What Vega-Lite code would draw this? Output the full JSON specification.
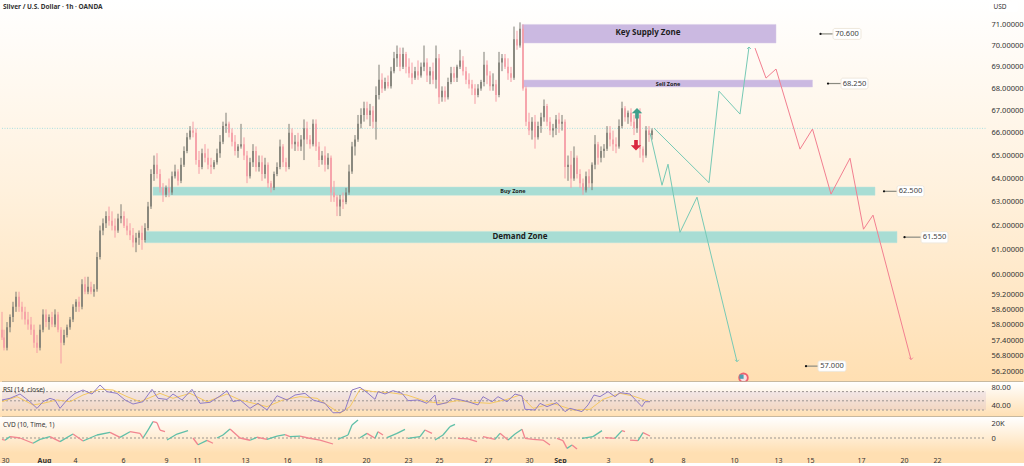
{"$schema":"https://vega.github.io/schema/vega-lite/v6.json","padding":0,"background":"#ffdfb2","spacing":0,"bounds":"flush","config":{"view":{"stroke":null},"font":"Noto Sans","concat":{"spacing":0},"axis":{"domain":false,"ticks":false,"grid":false,"title":null,"labelFont":"Noto Sans","labelFontSize":7.5,"labelColor":"#333333"}},
"datasets":{
"candles":[{"x":2,"o":57.8,"h":58.5,"l":57.4,"c":57.5},{"x":4,"o":57.5,"h":57.8,"l":57.0,"c":57.1},{"x":7,"o":57.1,"h":58.1,"l":57.0,"c":57.9},{"x":10,"o":57.9,"h":58.4,"l":57.7,"c":58.3},{"x":13,"o":58.3,"h":58.9,"l":58.1,"c":58.7},{"x":16,"o":58.7,"h":59.3,"l":58.5,"c":59.1},{"x":19,"o":59.1,"h":59.3,"l":58.5,"c":58.7},{"x":22,"o":58.7,"h":58.9,"l":58.2,"c":58.5},{"x":25,"o":58.5,"h":58.7,"l":58.0,"c":58.2},{"x":28,"o":58.2,"h":58.5,"l":57.8,"c":58.0},{"x":31,"o":58.0,"h":58.3,"l":57.6,"c":57.8},{"x":34,"o":57.8,"h":58.0,"l":57.1,"c":57.3},{"x":37,"o":57.3,"h":57.6,"l":56.9,"c":57.1},{"x":40,"o":57.1,"h":58.0,"l":57.0,"c":57.8},{"x":43,"o":57.8,"h":58.6,"l":57.7,"c":58.4},{"x":46,"o":58.4,"h":58.6,"l":57.9,"c":58.1},{"x":49,"o":58.1,"h":58.4,"l":57.8,"c":58.3},{"x":52,"o":58.3,"h":58.5,"l":57.9,"c":58.0},{"x":55,"o":58.0,"h":58.6,"l":57.9,"c":58.4},{"x":58,"o":58.4,"h":58.5,"l":57.7,"c":57.8},{"x":61,"o":57.8,"h":57.9,"l":56.5,"c":57.3},{"x":64,"o":57.3,"h":57.8,"l":57.2,"c":57.6},{"x":67,"o":57.6,"h":58.0,"l":57.5,"c":57.9},{"x":70,"o":57.9,"h":58.3,"l":57.8,"c":58.2},{"x":73,"o":58.2,"h":58.8,"l":58.1,"c":58.7},{"x":76,"o":58.7,"h":59.0,"l":58.5,"c":58.9},{"x":79,"o":58.9,"h":59.1,"l":58.5,"c":58.7},{"x":82,"o":58.7,"h":59.8,"l":58.6,"c":59.6},{"x":85,"o":59.6,"h":59.9,"l":59.2,"c":59.3},{"x":88,"o":59.3,"h":59.9,"l":59.2,"c":59.5},{"x":91,"o":59.5,"h":59.7,"l":59.2,"c":59.3},{"x":94,"o":59.3,"h":59.6,"l":59.1,"c":59.4},{"x":97,"o":59.4,"h":60.9,"l":59.3,"c":60.7},{"x":100,"o":60.7,"h":62.0,"l":60.6,"c":61.8},{"x":103,"o":61.8,"h":62.3,"l":61.6,"c":62.1},{"x":106,"o":62.1,"h":62.6,"l":61.9,"c":62.4},{"x":109,"o":62.4,"h":62.8,"l":62.0,"c":62.2},{"x":112,"o":62.2,"h":62.6,"l":61.8,"c":62.0},{"x":115,"o":62.0,"h":62.3,"l":61.5,"c":61.8},{"x":118,"o":61.8,"h":62.5,"l":61.7,"c":62.3},{"x":121,"o":62.3,"h":62.9,"l":62.1,"c":62.4},{"x":124,"o":62.4,"h":62.6,"l":61.9,"c":62.0},{"x":127,"o":62.0,"h":62.3,"l":61.6,"c":61.8},{"x":130,"o":61.8,"h":62.1,"l":61.4,"c":61.6},{"x":133,"o":61.6,"h":61.9,"l":61.1,"c":61.3},{"x":136,"o":61.3,"h":61.7,"l":60.9,"c":61.5},{"x":139,"o":61.5,"h":61.8,"l":61.2,"c":61.7},{"x":142,"o":61.7,"h":62.0,"l":61.0,"c":61.4},{"x":145,"o":61.4,"h":62.1,"l":61.3,"c":61.9},{"x":148,"o":61.9,"h":63.0,"l":61.8,"c":62.8},{"x":151,"o":62.8,"h":64.4,"l":62.7,"c":64.2},{"x":154,"o":64.2,"h":65.0,"l":63.9,"c":64.6},{"x":157,"o":64.6,"h":65.1,"l":64.0,"c":64.2},{"x":160,"o":64.2,"h":64.4,"l":63.4,"c":63.6},{"x":163,"o":63.6,"h":63.8,"l":63.0,"c":63.3},{"x":166,"o":63.3,"h":63.7,"l":63.2,"c":63.6},{"x":169,"o":63.6,"h":64.0,"l":63.2,"c":63.4},{"x":172,"o":63.4,"h":64.3,"l":63.3,"c":64.1},{"x":175,"o":64.1,"h":64.6,"l":64.0,"c":64.3},{"x":178,"o":64.3,"h":64.4,"l":63.7,"c":63.9},{"x":181,"o":63.9,"h":64.9,"l":63.8,"c":64.6},{"x":184,"o":64.6,"h":65.4,"l":64.5,"c":65.2},{"x":187,"o":65.2,"h":66.0,"l":65.1,"c":65.8},{"x":190,"o":65.8,"h":66.3,"l":65.7,"c":66.1},{"x":193,"o":66.1,"h":66.5,"l":65.8,"c":66.0},{"x":196,"o":66.0,"h":66.2,"l":64.6,"c":64.8},{"x":199,"o":64.8,"h":65.2,"l":64.2,"c":64.5},{"x":202,"o":64.5,"h":65.3,"l":64.4,"c":65.1},{"x":205,"o":65.1,"h":65.5,"l":64.7,"c":64.9},{"x":208,"o":64.9,"h":65.3,"l":64.4,"c":64.6},{"x":211,"o":64.6,"h":64.9,"l":64.2,"c":64.5},{"x":214,"o":64.5,"h":64.8,"l":64.4,"c":64.7},{"x":217,"o":64.7,"h":65.3,"l":64.6,"c":65.1},{"x":220,"o":65.1,"h":65.9,"l":64.9,"c":65.6},{"x":223,"o":65.6,"h":66.5,"l":65.5,"c":66.3},{"x":226,"o":66.3,"h":66.9,"l":66.0,"c":66.4},{"x":229,"o":66.4,"h":66.5,"l":65.8,"c":66.0},{"x":232,"o":66.0,"h":66.2,"l":65.4,"c":65.6},{"x":235,"o":65.6,"h":65.9,"l":65.0,"c":65.2},{"x":238,"o":65.2,"h":65.5,"l":64.9,"c":65.4},{"x":241,"o":65.4,"h":66.4,"l":65.3,"c":65.5},{"x":244,"o":65.5,"h":65.8,"l":64.8,"c":65.0},{"x":247,"o":65.0,"h":65.2,"l":63.8,"c":64.1},{"x":250,"o":64.1,"h":64.9,"l":64.0,"c":64.7},{"x":253,"o":64.7,"h":65.5,"l":64.5,"c":65.2},{"x":256,"o":65.2,"h":65.4,"l":64.3,"c":64.5},{"x":259,"o":64.5,"h":65.0,"l":64.3,"c":64.7},{"x":262,"o":64.7,"h":65.0,"l":63.9,"c":64.2},{"x":265,"o":64.2,"h":64.9,"l":64.0,"c":64.6},{"x":268,"o":64.6,"h":64.7,"l":63.6,"c":63.8},{"x":271,"o":63.8,"h":63.9,"l":63.4,"c":63.6},{"x":274,"o":63.6,"h":64.3,"l":63.5,"c":64.2},{"x":277,"o":64.2,"h":64.7,"l":64.1,"c":64.5},{"x":280,"o":64.5,"h":65.7,"l":64.4,"c":65.4},{"x":283,"o":65.4,"h":65.5,"l":64.5,"c":64.7},{"x":286,"o":64.7,"h":64.9,"l":64.3,"c":64.5},{"x":289,"o":64.5,"h":66.4,"l":64.4,"c":66.0},{"x":292,"o":66.0,"h":66.2,"l":65.3,"c":65.5},{"x":295,"o":65.5,"h":65.9,"l":65.2,"c":65.6},{"x":298,"o":65.6,"h":66.0,"l":65.2,"c":65.4},{"x":301,"o":65.4,"h":65.9,"l":65.2,"c":65.7},{"x":304,"o":65.7,"h":66.6,"l":64.8,"c":66.2},{"x":307,"o":66.2,"h":66.5,"l":65.5,"c":65.7},{"x":310,"o":65.7,"h":65.9,"l":65.3,"c":65.5},{"x":313,"o":65.5,"h":66.6,"l":65.4,"c":66.4},{"x":316,"o":66.4,"h":66.6,"l":65.2,"c":65.4},{"x":319,"o":65.4,"h":65.6,"l":64.5,"c":64.8},{"x":322,"o":64.8,"h":65.2,"l":64.6,"c":65.0},{"x":325,"o":65.0,"h":65.4,"l":64.3,"c":64.6},{"x":328,"o":64.6,"h":65.1,"l":64.4,"c":64.9},{"x":331,"o":64.9,"h":65.0,"l":63.0,"c":63.4},{"x":334,"o":63.4,"h":63.9,"l":63.0,"c":63.2},{"x":337,"o":63.2,"h":63.3,"l":62.4,"c":62.8},{"x":340,"o":62.8,"h":63.3,"l":62.4,"c":63.1},{"x":343,"o":63.1,"h":63.4,"l":62.7,"c":63.0},{"x":346,"o":63.0,"h":63.6,"l":62.9,"c":63.4},{"x":349,"o":63.4,"h":64.6,"l":63.3,"c":64.3},{"x":352,"o":64.3,"h":65.6,"l":64.2,"c":65.4},{"x":355,"o":65.4,"h":65.9,"l":65.0,"c":65.7},{"x":358,"o":65.7,"h":66.8,"l":65.6,"c":66.4},{"x":361,"o":66.4,"h":67.1,"l":66.2,"c":66.8},{"x":364,"o":66.8,"h":67.4,"l":66.5,"c":67.1},{"x":367,"o":67.1,"h":67.4,"l":66.6,"c":66.8},{"x":370,"o":66.8,"h":67.3,"l":66.3,"c":67.0},{"x":373,"o":67.0,"h":67.2,"l":66.2,"c":66.5},{"x":376,"o":66.5,"h":68.1,"l":65.7,"c":67.7},{"x":379,"o":67.7,"h":69.1,"l":67.5,"c":68.4},{"x":382,"o":68.4,"h":68.7,"l":67.8,"c":68.0},{"x":385,"o":68.0,"h":68.5,"l":67.9,"c":68.3},{"x":388,"o":68.3,"h":68.6,"l":68.0,"c":68.1},{"x":391,"o":68.1,"h":69.0,"l":68.0,"c":68.8},{"x":394,"o":68.8,"h":69.7,"l":68.7,"c":69.4},{"x":397,"o":69.4,"h":70.0,"l":69.0,"c":69.6},{"x":400,"o":69.6,"h":69.9,"l":68.8,"c":69.0},{"x":403,"o":69.0,"h":69.9,"l":68.9,"c":69.6},{"x":406,"o":69.6,"h":69.7,"l":68.7,"c":69.0},{"x":409,"o":69.0,"h":69.4,"l":68.5,"c":68.7},{"x":412,"o":68.7,"h":69.2,"l":68.2,"c":68.5},{"x":415,"o":68.5,"h":69.0,"l":68.4,"c":68.8},{"x":418,"o":68.8,"h":69.3,"l":68.4,"c":68.6},{"x":421,"o":68.6,"h":69.2,"l":68.5,"c":69.0},{"x":424,"o":69.0,"h":70.0,"l":68.8,"c":69.2},{"x":427,"o":69.2,"h":69.4,"l":68.3,"c":68.6},{"x":430,"o":68.6,"h":69.0,"l":68.2,"c":68.8},{"x":433,"o":68.8,"h":69.2,"l":68.2,"c":68.4},{"x":436,"o":68.4,"h":70.0,"l":68.0,"c":69.4},{"x":439,"o":69.4,"h":69.6,"l":67.3,"c":67.6},{"x":442,"o":67.6,"h":68.1,"l":67.4,"c":67.9},{"x":445,"o":67.9,"h":68.1,"l":67.4,"c":67.6},{"x":448,"o":67.6,"h":68.5,"l":67.5,"c":68.3},{"x":451,"o":68.3,"h":69.0,"l":68.2,"c":68.7},{"x":454,"o":68.7,"h":69.0,"l":68.3,"c":68.5},{"x":457,"o":68.5,"h":69.1,"l":68.3,"c":69.0},{"x":460,"o":69.0,"h":69.8,"l":68.9,"c":69.3},{"x":463,"o":69.3,"h":69.5,"l":68.6,"c":68.8},{"x":466,"o":68.8,"h":69.0,"l":68.2,"c":68.4},{"x":469,"o":68.4,"h":68.7,"l":68.0,"c":68.2},{"x":472,"o":68.2,"h":68.4,"l":67.7,"c":68.0},{"x":475,"o":68.0,"h":68.2,"l":67.3,"c":67.7},{"x":478,"o":67.7,"h":68.2,"l":67.6,"c":68.0},{"x":481,"o":68.0,"h":68.4,"l":67.9,"c":68.3},{"x":484,"o":68.3,"h":69.7,"l":68.1,"c":69.1},{"x":487,"o":69.1,"h":69.3,"l":68.2,"c":68.6},{"x":490,"o":68.6,"h":68.8,"l":67.9,"c":68.1},{"x":493,"o":68.1,"h":68.7,"l":67.9,"c":68.2},{"x":496,"o":68.2,"h":68.4,"l":67.4,"c":67.7},{"x":499,"o":67.7,"h":69.7,"l":67.6,"c":69.2},{"x":502,"o":69.2,"h":69.6,"l":68.8,"c":69.4},{"x":505,"o":69.4,"h":69.6,"l":68.9,"c":69.0},{"x":508,"o":69.0,"h":69.4,"l":68.4,"c":68.7},{"x":511,"o":68.7,"h":69.0,"l":68.3,"c":68.5},{"x":514,"o":68.5,"h":70.9,"l":68.4,"c":70.3},{"x":517,"o":70.3,"h":70.7,"l":69.8,"c":70.0},{"x":520,"o":70.0,"h":71.1,"l":69.9,"c":70.8},{"x":523,"o":70.8,"h":71.0,"l":67.9,"c":68.0},{"x":526,"o":68.0,"h":68.1,"l":66.3,"c":66.5},{"x":529,"o":66.5,"h":66.9,"l":65.9,"c":66.1},{"x":532,"o":66.1,"h":66.7,"l":65.7,"c":66.5},{"x":535,"o":66.5,"h":66.8,"l":65.3,"c":65.8},{"x":538,"o":65.8,"h":66.5,"l":65.7,"c":66.3},{"x":541,"o":66.3,"h":66.9,"l":66.0,"c":66.7},{"x":544,"o":66.7,"h":67.5,"l":66.5,"c":67.2},{"x":547,"o":67.2,"h":67.3,"l":66.3,"c":66.5},{"x":550,"o":66.5,"h":66.7,"l":65.9,"c":66.1},{"x":553,"o":66.1,"h":66.4,"l":65.8,"c":66.2},{"x":556,"o":66.2,"h":66.8,"l":65.9,"c":66.6},{"x":559,"o":66.6,"h":66.9,"l":66.0,"c":66.4},{"x":562,"o":66.4,"h":66.8,"l":66.1,"c":66.5},{"x":565,"o":66.5,"h":66.6,"l":64.0,"c":64.5},{"x":568,"o":64.5,"h":65.0,"l":63.9,"c":64.6},{"x":571,"o":64.6,"h":65.2,"l":63.6,"c":64.0},{"x":574,"o":64.0,"h":65.4,"l":63.9,"c":64.9},{"x":577,"o":64.9,"h":65.0,"l":64.0,"c":64.2},{"x":580,"o":64.2,"h":64.4,"l":63.6,"c":63.8},{"x":583,"o":63.8,"h":64.0,"l":63.3,"c":63.5},{"x":586,"o":63.5,"h":64.3,"l":63.4,"c":64.1},{"x":589,"o":64.1,"h":64.4,"l":63.6,"c":63.8},{"x":592,"o":63.8,"h":64.7,"l":63.5,"c":64.6},{"x":595,"o":64.6,"h":65.9,"l":64.4,"c":65.5},{"x":598,"o":65.5,"h":65.6,"l":64.6,"c":64.9},{"x":601,"o":64.9,"h":65.4,"l":64.7,"c":65.2},{"x":604,"o":65.2,"h":65.5,"l":64.9,"c":65.3},{"x":607,"o":65.3,"h":66.3,"l":65.2,"c":66.0},{"x":610,"o":66.0,"h":66.3,"l":65.4,"c":65.7},{"x":613,"o":65.7,"h":66.1,"l":65.2,"c":65.5},{"x":616,"o":65.5,"h":65.8,"l":65.1,"c":65.4},{"x":619,"o":65.4,"h":66.6,"l":65.3,"c":66.3},{"x":622,"o":66.3,"h":67.4,"l":66.2,"c":67.1},{"x":625,"o":67.1,"h":67.2,"l":66.5,"c":66.7},{"x":628,"o":66.7,"h":67.0,"l":66.4,"c":66.9},{"x":631,"o":66.9,"h":67.1,"l":66.3,"c":66.5},{"x":634,"o":66.5,"h":66.8,"l":65.9,"c":66.2},{"x":637,"o":66.2,"h":67.0,"l":66.0,"c":66.8},{"x":640,"o":66.8,"h":67.1,"l":64.9,"c":65.3},{"x":643,"o":65.3,"h":65.4,"l":64.7,"c":65.0},{"x":646,"o":65.0,"h":66.3,"l":64.9,"c":66.1},{"x":649,"o":66.1,"h":66.3,"l":65.6,"c":65.9},{"x":652,"o":65.9,"h":66.2,"l":65.7,"c":66.1}],
"rsi":[{"x":2,"v":51.8},{"x":10,"v":55.4},{"x":20,"v":64.8},{"x":30,"v":48},{"x":37,"v":33.6},{"x":43,"v":48},{"x":50,"v":55.4},{"x":55,"v":51.8},{"x":60,"v":33.6},{"x":67,"v":51.8},{"x":75,"v":66.2},{"x":83,"v":73.5},{"x":92,"v":64.8},{"x":100,"v":84.4},{"x":107,"v":69.9},{"x":117,"v":66.2},{"x":125,"v":51.8},{"x":133,"v":43},{"x":143,"v":48},{"x":152,"v":75},{"x":158,"v":55.4},{"x":167,"v":53},{"x":173,"v":64.8},{"x":182,"v":51.8},{"x":192,"v":75},{"x":200,"v":44.5},{"x":210,"v":46.7},{"x":220,"v":60.4},{"x":227,"v":72},{"x":233,"v":48},{"x":240,"v":51.8},{"x":250,"v":33.6},{"x":258,"v":44.5},{"x":267,"v":30},{"x":277,"v":61},{"x":287,"v":51.8},{"x":295,"v":62.6},{"x":305,"v":66.2},{"x":313,"v":51.8},{"x":325,"v":44.5},{"x":333,"v":24},{"x":340,"v":24.2},{"x":345,"v":30},{"x":352,"v":73.5},{"x":360,"v":79.3},{"x":368,"v":66.3},{"x":375,"v":53.2},{"x":378,"v":70},{"x":385,"v":64.8},{"x":393,"v":72},{"x":402,"v":66.3},{"x":408,"v":50.3},{"x":418,"v":51.8},{"x":427,"v":44.5},{"x":435,"v":62.6},{"x":437,"v":41},{"x":447,"v":46},{"x":452,"v":55.4},{"x":458,"v":53.2},{"x":468,"v":48},{"x":478,"v":41},{"x":483,"v":59},{"x":492,"v":48},{"x":498,"v":59},{"x":507,"v":48},{"x":515,"v":64.8},{"x":522,"v":60.5},{"x":525,"v":31.5},{"x":535,"v":30},{"x":540,"v":44.5},{"x":547,"v":37.3},{"x":557,"v":46},{"x":565,"v":26.4},{"x":570,"v":33.7},{"x":582,"v":26.4},{"x":588,"v":41},{"x":594,"v":62.6},{"x":600,"v":59},{"x":608,"v":70},{"x":615,"v":59},{"x":620,"v":67.7},{"x":630,"v":64.8},{"x":635,"v":53.2},{"x":642,"v":37.3},{"x":645,"v":48},{"x":650,"v":48}],
"ma":[{"x":2,"v":48},{"x":17,"v":59},{"x":33,"v":41},{"x":43,"v":44.5},{"x":57,"v":51.8},{"x":70,"v":48},{"x":83,"v":62.6},{"x":100,"v":75},{"x":113,"v":73.5},{"x":127,"v":59},{"x":140,"v":48},{"x":160,"v":66.2},{"x":173,"v":55.4},{"x":190,"v":66.2},{"x":207,"v":48},{"x":227,"v":64.8},{"x":240,"v":51.8},{"x":267,"v":37.3},{"x":283,"v":51.8},{"x":300,"v":59},{"x":317,"v":55.4},{"x":340,"v":22.8},{"x":350,"v":37.3},{"x":360,"v":75},{"x":373,"v":70},{"x":390,"v":67.7},{"x":407,"v":62.6},{"x":427,"v":48},{"x":443,"v":44.5},{"x":457,"v":50.3},{"x":473,"v":46.7},{"x":490,"v":44.5},{"x":507,"v":53.2},{"x":520,"v":62.6},{"x":533,"v":33.7},{"x":553,"v":44.5},{"x":573,"v":30},{"x":590,"v":31.5},{"x":603,"v":53.2},{"x":620,"v":66.3},{"x":633,"v":60.5},{"x":650,"v":48}],
"cvd":[{"x":2,"x2":5,"o":-1.8,"c":-3},{"x":5,"x2":10,"o":-3,"c":1.8},{"x":10,"x2":20,"o":1.8,"c":0},{"x":20,"x2":33,"o":0,"c":-7},{"x":33,"x2":40,"o":-7,"c":-1.8},{"x":40,"x2":50,"o":-1.8,"c":1.8},{"x":50,"x2":60,"o":1.8,"c":-4.9},{"x":60,"x2":73,"o":-4.9,"c":5.3},{"x":73,"x2":83,"o":5.3,"c":-4},{"x":83,"x2":97,"o":-4,"c":4},{"x":97,"x2":110,"o":4,"c":7.5},{"x":110,"x2":120,"o":7.5,"c":0.9},{"x":120,"x2":130,"o":0.9,"c":8.4},{"x":130,"x2":140,"o":8.4,"c":6.2},{"x":140,"x2":143,"o":6.2,"c":0},{"x":143,"x2":148,"o":0,"c":10.6},{"x":148,"x2":153,"o":10.6,"c":21.8},{"x":153,"x2":157,"o":21.8,"c":20.4},{"x":157,"x2":160,"o":20.4,"c":10.6},{"x":160,"x2":165,"o":10.6,"c":8.4},{"x":167,"x2":177,"o":-2.7,"c":5.3},{"x":177,"x2":188,"o":5.3,"c":9.8},{"x":193,"x2":198,"o":0,"c":-9},{"x":198,"x2":207,"o":-9,"c":-3.1},{"x":207,"x2":213,"o":-3.1,"c":-7},{"x":217,"x2":223,"o":0,"c":4},{"x":223,"x2":230,"o":4,"c":12},{"x":230,"x2":240,"o":12,"c":0},{"x":240,"x2":250,"o":0,"c":-3},{"x":250,"x2":257,"o":-3,"c":1},{"x":257,"x2":267,"o":1,"c":-1.8},{"x":267,"x2":277,"o":-1.8,"c":2.6},{"x":277,"x2":285,"o":2.6,"c":4.4},{"x":285,"x2":290,"o":4.4,"c":1.8},{"x":290,"x2":300,"o":1.8,"c":2.6},{"x":300,"x2":308,"o":2.6,"c":0},{"x":308,"x2":320,"o":0,"c":-2.7},{"x":320,"x2":333,"o":-2.7,"c":-8},{"x":338,"x2":340,"o":-1.8,"c":-0.4},{"x":340,"x2":348,"o":-0.4,"c":4},{"x":348,"x2":352,"o":4,"c":17.3},{"x":352,"x2":358,"o":17.3,"c":24},{"x":360,"x2":367,"o":0.4,"c":6.2},{"x":367,"x2":375,"o":6.2,"c":-0.4},{"x":375,"x2":378,"o":-0.4,"c":8.4},{"x":378,"x2":383,"o":8.4,"c":4},{"x":387,"x2":397,"o":0.4,"c":6.2},{"x":397,"x2":405,"o":6.2,"c":11.6},{"x":408,"x2":420,"o":-0.4,"c":1.8},{"x":420,"x2":425,"o":1.8,"c":10.7},{"x":425,"x2":432,"o":10.7,"c":6.2},{"x":435,"x2":443,"o":-2.7,"c":4},{"x":443,"x2":450,"o":4,"c":15.1},{"x":450,"x2":455,"o":15.1,"c":18.2},{"x":458,"x2":468,"o":-0.4,"c":-1.3},{"x":468,"x2":477,"o":-1.3,"c":-4.9},{"x":483,"x2":495,"o":1.8,"c":-1.8},{"x":495,"x2":500,"o":-1.8,"c":6.2},{"x":500,"x2":508,"o":6.2,"c":-2.7},{"x":508,"x2":515,"o":-2.7,"c":5.3},{"x":515,"x2":522,"o":5.3,"c":11.6},{"x":522,"x2":525,"o":11.6,"c":-0.4},{"x":525,"x2":533,"o":-0.4,"c":-1.8},{"x":533,"x2":543,"o":-1.8,"c":-2.7},{"x":543,"x2":550,"o":-2.7,"c":-9.3},{"x":557,"x2":563,"o":-0.4,"c":-3.5},{"x":563,"x2":567,"o":-3.5,"c":-13.8},{"x":567,"x2":572,"o":-13.8,"c":-9.3},{"x":572,"x2":577,"o":-9.3,"c":-14.7},{"x":582,"x2":593,"o":-0.4,"c":1.8},{"x":593,"x2":602,"o":1.8,"c":9.8},{"x":605,"x2":615,"o":0.4,"c":-0.4},{"x":615,"x2":622,"o":-0.4,"c":9.8},{"x":622,"x2":625,"o":9.8,"c":8.4},{"x":630,"x2":638,"o":-2.7,"c":-3.5},{"x":638,"x2":643,"o":-3.5,"c":7.1},{"x":643,"x2":650,"o":7.1,"c":2.7}],
"zones":[{"name":"Key Supply Zone","kind":"supply","size":"big","x":522,"x2":776,"y":71.0,"y2":70.12,"mx":648,"my":70.6},{"name":"Sell Zone","kind":"supply","size":"small","x":523,"x2":812.5,"y":68.39,"y2":68.07,"mx":668,"my":68.23},{"name":"Buy Zone","kind":"demand","size":"small","x":153,"x2":875,"y":63.63,"y2":63.28,"mx":513,"my":63.45},{"name":"Demand Zone","kind":"demand","size":"big","x":145,"x2":897,"y":61.76,"y2":61.29,"mx":520,"my":61.52}],
"paths":[{"k":"a","i":0,"x":654,"y":66.21},{"k":"a","i":1,"x":709,"y":63.82},{"k":"a","i":2,"x":719,"y":67.88},{"k":"a","i":3,"x":740,"y":66.84},{"k":"a","i":4,"x":749,"y":69.93},{"k":"b","i":0,"x":650,"y":65.99},{"k":"b","i":1,"x":662,"y":63.71},{"k":"b","i":2,"x":668,"y":64.62},{"k":"b","i":3,"x":680,"y":61.72},{"k":"b","i":4,"x":697,"y":63.2},{"k":"b","i":5,"x":737,"y":56.57},{"k":"c","i":0,"x":755,"y":69.88},{"k":"c","i":1,"x":766,"y":68.48},{"k":"c","i":2,"x":776,"y":68.9},{"k":"c","i":3,"x":800,"y":65.28},{"k":"c","i":4,"x":812.5,"y":66.17},{"k":"c","i":5,"x":831,"y":63.33},{"k":"c","i":6,"x":850,"y":64.88},{"k":"c","i":7,"x":863.5,"y":61.85},{"k":"c","i":8,"x":873,"y":62.44},{"k":"c","i":9,"x":911,"y":56.65}],
"callouts":[{"x":820.5,"xl":833,"xr":861,"xt":847,"y":70.55,"top":70.81,"bot":70.29,"t":"70.600"},{"x":828,"xl":841,"xr":868,"xt":854.5,"y":68.23,"top":68.48,"bot":67.98,"t":"68.250"},{"x":884,"xl":897,"xr":924,"xt":910.5,"y":63.45,"top":63.69,"bot":63.22,"t":"62.500"},{"x":904.5,"xl":921,"xr":948,"xt":934.5,"y":61.52,"top":61.75,"bot":61.28,"t":"61.550"},{"x":806,"xl":818,"xr":846,"xt":832,"y":56.4,"top":56.6,"bot":56.2,"t":"57.000"}]
},
"vconcat":[
{"width":1024,"height":382,"encoding":{"x":{"field":"x","type":"quantitative","scale":{"domain":[0,1024],"nice":false,"zero":false},"axis":null}},"layer":[
{"data":{"values":[{"x":0,"x2":1024,"y":72.18,"y2":55.8}]},"mark":{"type":"rect","fill":{"gradient":"linear","x1":0,"y1":0,"x2":0,"y2":1,"stops":[{"offset":0,"color":"#ffffff"},{"offset":0.5,"color":"#fff1dd"},{"offset":1,"color":"#ffdfb2"}]}},"encoding":{"x2":{"field":"x2"},"y":{"field":"y","type":"quantitative","scale":{"type":"log","domain":[55.8,72.18],"nice":false,"zero":false},"axis":{"orient":"right","zindex":1,"labelPadding":-33,"values":[71,70,69,68,67,66,65,64,63,62,61,60,59.2,58.6,58,57.4,56.8,56.2],"format":".5f"}},"y2":{"field":"y2"}}},
{"data":{"values":[{"x":2,"x2":986,"y":66.2}]},"mark":{"type":"rule","color":"#a9dfe0","strokeWidth":1,"strokeDash":[1,1.5]},"encoding":{"x2":{"field":"x2"},"y":{"field":"y","type":"quantitative"}}},
{"data":{"name":"zones"},"mark":{"type":"rect","strokeWidth":1,"strokeOpacity":0.5},"encoding":{"x2":{"field":"x2"},"y":{"field":"y","type":"quantitative"},"y2":{"field":"y2"},"fill":{"field":"kind","scale":{"domain":["supply","demand"],"range":["#cbb9e1","#a8ddd4"]},"legend":null},"stroke":{"field":"kind","scale":{"domain":["supply","demand"],"range":["#d9cdea","#bce5de"]},"legend":null}}},
{"data":{"name":"candles"},"mark":{"type":"rule","strokeWidth":1},"encoding":{"y":{"field":"l","type":"quantitative"},"y2":{"field":"h"},"color":{"condition":{"test":"datum.c>=datum.o","value":"#7d7d74"},"value":"#f59ca5"}}},
{"data":{"name":"candles"},"mark":{"type":"rule","strokeWidth":1.6},"encoding":{"y":{"field":"o","type":"quantitative"},"y2":{"field":"c"},"color":{"condition":{"test":"datum.c>=datum.o","value":"#7d7d74"},"value":"#f59ca5"}}},
{"data":{"name":"paths"},"mark":{"type":"line","strokeWidth":1},"encoding":{"y":{"field":"y","type":"quantitative"},"order":{"field":"i"},"detail":{"field":"k"},"color":{"field":"k","scale":{"domain":["a","b","c"],"range":["#76c9b5","#76c9b5","#f27f90"]},"legend":null}}},
{"data":{"values":[{"x":749,"y":69.93}]},"mark":{"type":"point","shape":"M-1,1L0,0L1,1","size":14,"color":"#76c9b5","strokeWidth":1,"opacity":1},"encoding":{"y":{"field":"y","type":"quantitative"}}},
{"data":{"values":[{"x":737,"y":56.57}]},"mark":{"type":"point","shape":"M-1,-1L0,0L1,-1","size":14,"color":"#76c9b5","strokeWidth":1,"opacity":1},"encoding":{"y":{"field":"y","type":"quantitative"}}},
{"data":{"values":[{"x":911,"y":56.65}]},"mark":{"type":"point","shape":"M-1,-1L0,0L1,-1","size":14,"color":"#f27f90","strokeWidth":1,"opacity":1},"encoding":{"y":{"field":"y","type":"quantitative"}}},
{"data":{"values":[{"x":637,"y":66.88}]},"mark":{"type":"point","filled":true,"opacity":1,"shape":"M-0.35,1L0.35,1L0.35,0L1,0L0,-1L-1,0L-0.35,0Z","size":110,"color":"#3f9f8c"},"encoding":{"y":{"field":"y","type":"quantitative"}}},
{"data":{"values":[{"x":636,"y":65.45}]},"mark":{"type":"point","filled":true,"opacity":1,"shape":"M-0.35,-1L0.35,-1L0.35,0L1,0L0,1L-1,0L-0.35,0Z","size":110,"color":"#d9273f"},"encoding":{"y":{"field":"y","type":"quantitative"}}},
{"data":{"values":[{"x":743.5,"y":55.96}]},"mark":{"type":"point","filled":true,"opacity":1,"size":110,"color":"#f0606f","shape":"circle"},"encoding":{"y":{"field":"y","type":"quantitative"}}},
{"data":{"values":[{"x":743.5,"y":55.96}]},"mark":{"type":"point","filled":true,"opacity":1,"size":45,"color":"#f9dfe0","shape":"circle"},"encoding":{"y":{"field":"y","type":"quantitative"}}},
{"data":{"values":[{"x":741.5,"y":56.0}]},"mark":{"type":"point","filled":true,"opacity":1,"size":18,"color":"#4f9fb0","shape":"square"},"encoding":{"y":{"field":"y","type":"quantitative"}}},
{"data":{"name":"zones"},"transform":[{"filter":"datum.size=='big'"}],"mark":{"type":"text","fontWeight":"bold","fontSize":8,"color":"#1d1d1d"},"encoding":{"x":{"field":"mx","type":"quantitative"},"y":{"field":"my","type":"quantitative"},"text":{"field":"name"}}},
{"data":{"name":"zones"},"transform":[{"filter":"datum.size=='small'"}],"mark":{"type":"text","fontWeight":"bold","fontSize":5.5,"color":"#1d1d1d"},"encoding":{"x":{"field":"mx","type":"quantitative"},"y":{"field":"my","type":"quantitative"},"text":{"field":"name"}}},
{"data":{"name":"callouts"},"mark":{"type":"rule","color":"#8a8a80","strokeWidth":1.2},"encoding":{"x2":{"field":"xl"},"y":{"field":"y","type":"quantitative"}}},
{"data":{"name":"callouts"},"mark":{"type":"point","filled":true,"opacity":1,"size":5,"color":"#111111"},"encoding":{"y":{"field":"y","type":"quantitative"}}},
{"data":{"name":"callouts"},"mark":{"type":"rect","fill":"#ffffff","stroke":"#efe8dc","strokeWidth":1,"cornerRadius":2},"encoding":{"x":{"field":"xl","type":"quantitative"},"x2":{"field":"xr"},"y":{"field":"top","type":"quantitative"},"y2":{"field":"bot"}}},
{"data":{"name":"callouts"},"mark":{"type":"text","fontSize":7.5,"color":"#444444"},"encoding":{"x":{"field":"xt","type":"quantitative"},"y":{"field":"y","type":"quantitative"},"text":{"field":"t"}}},
{"data":{"values":[{"x":989,"x2":1018,"y":72.09,"y2":71.6}]},"mark":{"type":"rect","fill":"#ffffff","cornerRadius":2},"encoding":{"x2":{"field":"x2"},"y":{"field":"y","type":"quantitative"},"y2":{"field":"y2"}}},
{"data":{"values":[{"x":1000,"y":71.84,"t":"USD"}]},"mark":{"type":"text","fontSize":6.5,"color":"#333333"},"encoding":{"y":{"field":"y","type":"quantitative"},"text":{"field":"t"}}},
{"data":{"values":[{"x":3,"y":71.84,"t":"Silver / U.S. Dollar · 1h · OANDA"}]},"mark":{"type":"text","fontSize":6.5,"fontWeight":"bold","align":"left","color":"#333333"},"encoding":{"y":{"field":"y","type":"quantitative"},"text":{"field":"t"}}},
{"data":{"values":[{"x":2,"x2":1023,"y":55.8}]},"mark":{"type":"rule","color":"#b6ac98","strokeWidth":1.5},"encoding":{"x2":{"field":"x2"},"y":{"field":"y","type":"quantitative"}}}
]},
{"width":1024,"height":35,"encoding":{"x":{"field":"x","type":"quantitative","scale":{"domain":[0,1024],"nice":false,"zero":false},"axis":null}},"layer":[
{"data":{"values":[{"x":0,"x2":1024,"v":90.9,"v2":14.8}]},"mark":{"type":"rect","fill":{"gradient":"linear","x1":0,"y1":0,"x2":0,"y2":1,"stops":[{"offset":0,"color":"#ffffff"},{"offset":1,"color":"#ffdfb2"}]}},"encoding":{"x2":{"field":"x2"},"y":{"field":"v","type":"quantitative","scale":{"domain":[14.8,90.9],"nice":false,"zero":false},"axis":{"orient":"right","zindex":1,"labelPadding":-33,"values":[80,40],"format":".2f"}},"y2":{"field":"v2"}}},
{"data":{"values":[{"x":2,"x2":986,"v":70,"v2":30}]},"mark":{"type":"rect","fill":"#7e57c2","opacity":0.1},"encoding":{"x2":{"field":"x2"},"y":{"field":"v","type":"quantitative"},"y2":{"field":"v2"}}},
{"data":{"values":[{"x":2,"x2":986,"v":70},{"x":2,"x2":986,"v":50},{"x":2,"x2":986,"v":30}]},"mark":{"type":"rule","color":"#9b9590","strokeWidth":1,"strokeDash":[2,2]},"encoding":{"x2":{"field":"x2"},"y":{"field":"v","type":"quantitative"}}},
{"data":{"name":"ma"},"mark":{"type":"line","color":"#f5c862","strokeWidth":1},"encoding":{"y":{"field":"v","type":"quantitative"}}},
{"data":{"name":"rsi"},"mark":{"type":"line","color":"#8f7cc6","strokeWidth":1},"encoding":{"y":{"field":"v","type":"quantitative"}}},
{"data":{"values":[{"x":3,"v":73.5,"t":"RSI (14, close)"}]},"mark":{"type":"text","fontSize":6.5,"align":"left","color":"#333333"},"encoding":{"y":{"field":"v","type":"quantitative"},"text":{"field":"t"}}},
{"data":{"values":[{"x":2,"x2":1023,"v":14.8}]},"mark":{"type":"rule","color":"#b6ac98","strokeWidth":1.5},"encoding":{"x2":{"field":"x2"},"y":{"field":"v","type":"quantitative"}}}
]},
{"width":1024,"height":36,"encoding":{"x":{"field":"x","type":"quantitative","scale":{"domain":[0,1024],"nice":false,"zero":false}}},"layer":[
{"data":{"values":[{"x":0,"x2":1024,"o":28,"c":-20}]},"mark":{"type":"rect","fill":{"gradient":"linear","x1":0,"y1":0,"x2":0,"y2":1,"stops":[{"offset":0,"color":"#ffffff"},{"offset":1,"color":"#ffdfb2"}]}},"encoding":{"x":{"field":"x","type":"quantitative","scale":{"domain":[0,1024],"nice":false,"zero":false},"axis":{"orient":"bottom","zindex":1,"labelPadding":3,"labelOverlap":false,"labelFontSize":7,"values":[5,44,75,123,166,197,245,287,318,366,408,439,488,529,560,608,651,683,734,778,810,861,904,937],"labelExpr":"{'5':'30','44':'Aug','75':'4','123':'6','166':'9','197':'11','245':'13','287':'16','318':'18','366':'20','408':'23','439':'25','488':'27','529':'30','560':'Sep','608':'3','651':'6','683':'8','734':'10','778':'13','810':'15','861':'17','904':'20','937':'22'}[''+datum.value]","labelFontWeight":{"expr":"datum.value==44||datum.value==560?'bold':'normal'"}}},"x2":{"field":"x2"},"y":{"field":"o","type":"quantitative","scale":{"domain":[-20,28],"nice":false,"zero":false},"axis":{"orient":"right","zindex":1,"labelPadding":-33,"values":[20,0],"labelExpr":"datum.value==0?'0':datum.value+'K'"}},"y2":{"field":"c"}}},
{"data":{"values":[{"x":2,"x2":986,"o":0}]},"mark":{"type":"rule","color":"#9b9590","strokeWidth":1,"strokeDash":[2,2]},"encoding":{"x2":{"field":"x2"},"y":{"field":"o","type":"quantitative"}}},
{"data":{"name":"cvd"},"mark":{"type":"rule","strokeWidth":1.3},"encoding":{"x2":{"field":"x2"},"y":{"field":"o","type":"quantitative"},"y2":{"field":"c"},"color":{"condition":{"test":"datum.c>=datum.o","value":"#5fbfa8"},"value":"#f2858f"}}},
{"data":{"values":[{"x":3,"o":17.3,"t":"CVD (10, Time, 1)"}]},"mark":{"type":"text","fontSize":6.5,"align":"left","color":"#333333"},"encoding":{"y":{"field":"o","type":"quantitative"},"text":{"field":"t"}}}
]}
]}
